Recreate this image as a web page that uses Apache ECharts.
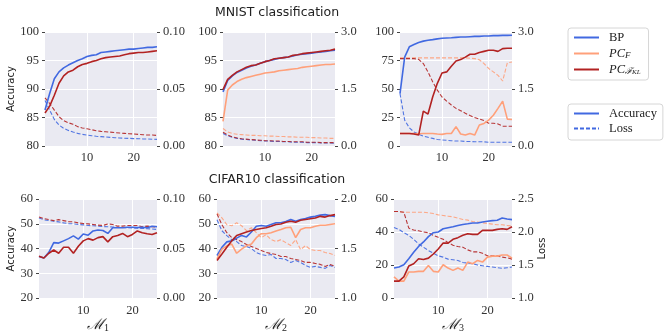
<!DOCTYPE html>
<html>
<head>
<meta charset="utf-8">
<script src="https://cdn.jsdelivr.net/npm/echarts@6/dist/echarts.min.js"></script>
<style>
  html, body { margin: 0; padding: 0; background: #fff; }
  #chart { width: 665px; height: 334px; }
</style>
</head>
<body>
<div id="chart"></div>
<script>
// epochs on the x axis
const epochs = [1, 2, 3, 4, 5, 6, 7, 8, 9, 10, 11, 12, 13, 14, 15, 16, 17, 18, 19, 20, 21, 22, 23, 24, 25]
const xTicks = [10, 20]

// MNIST, M1
const mnistM1BpAcc = [86.3, 89.2, 91.8, 93.0, 93.7, 94.2, 94.6, 95.0, 95.3, 95.7, 95.9, 96.0, 96.4, 96.5, 96.6, 96.7, 96.8, 96.9, 97.0, 97.0, 97.1, 97.2, 97.3, 97.3, 97.4]
const mnistM1BpLoss = [0.040, 0.0315, 0.0233, 0.0184, 0.0155, 0.0137, 0.0122, 0.0111, 0.0102, 0.0096, 0.0090, 0.0085, 0.0082, 0.0079, 0.0076, 0.0073, 0.0070, 0.0068, 0.0067, 0.0065, 0.0064, 0.0062, 0.0061, 0.0059, 0.0058]
const mnistM1FklAcc = [85.8, 87.0, 88.9, 91.0, 92.3, 93.0, 93.3, 93.9, 94.3, 94.5, 94.8, 95.0, 95.3, 95.5, 95.6, 95.7, 95.8, 96.0, 96.2, 96.3, 96.4, 96.4, 96.5, 96.6, 96.7]
const mnistM1FklLoss = [0.0423, 0.0373, 0.0315, 0.0257, 0.0222, 0.0204, 0.0190, 0.0170, 0.0158, 0.0152, 0.0143, 0.0134, 0.0128, 0.0125, 0.0122, 0.0117, 0.0114, 0.0111, 0.0108, 0.0105, 0.0102, 0.0099, 0.0096, 0.0096, 0.0093]

// MNIST, M2
const mnistM2BpAcc = [89.5, 91.5, 92.3, 92.9, 93.3, 93.7, 94.0, 94.2, 94.5, 94.8, 95.0, 95.2, 95.4, 95.5, 95.6, 95.8, 96.0, 96.1, 96.2, 96.3, 96.4, 96.5, 96.6, 96.7, 96.8]
const mnistM2BpLoss = [0.33, 0.27, 0.23, 0.20, 0.18, 0.17, 0.16, 0.15, 0.14, 0.13, 0.13, 0.12, 0.12, 0.11, 0.11, 0.10, 0.10, 0.10, 0.09, 0.09, 0.09, 0.08, 0.08, 0.08, 0.07]
const mnistM2PcfAcc = [84.3, 89.8, 90.7, 91.3, 91.7, 92.0, 92.2, 92.4, 92.6, 92.8, 92.9, 93.0, 93.2, 93.3, 93.4, 93.5, 93.6, 93.8, 93.9, 94.0, 94.1, 94.2, 94.3, 94.3, 94.4]
const mnistM2PcfLoss = [0.46, 0.37, 0.33, 0.31, 0.30, 0.29, 0.28, 0.28, 0.27, 0.27, 0.26, 0.26, 0.25, 0.25, 0.24, 0.24, 0.23, 0.23, 0.23, 0.22, 0.22, 0.21, 0.21, 0.20, 0.20]
const mnistM2FklAcc = [89.9, 91.7, 92.4, 93.0, 93.4, 93.8, 94.1, 94.2, 94.5, 94.8, 95.0, 95.3, 95.4, 95.5, 95.6, 95.9, 96.0, 96.2, 96.3, 96.4, 96.5, 96.6, 96.7, 96.8, 97.0]
const mnistM2FklLoss = [0.36, 0.29, 0.24, 0.21, 0.19, 0.18, 0.17, 0.16, 0.15, 0.14, 0.14, 0.13, 0.13, 0.12, 0.12, 0.11, 0.11, 0.11, 0.10, 0.10, 0.10, 0.09, 0.09, 0.09, 0.09]

// MNIST, M3
const mnistM3BpAcc = [46, 78, 87, 89, 90.7, 92, 92.7, 93.3, 94, 94.5, 94.8, 95, 95.3, 95.6, 95.6, 95.9, 96.2, 96.2, 96.5, 96.5, 96.8, 96.8, 97, 97, 97.1]
const mnistM3BpLoss = [1.38, 0.68, 0.48, 0.37, 0.31, 0.26, 0.23, 0.20, 0.17, 0.16, 0.15, 0.14, 0.13, 0.13, 0.12, 0.12, 0.11, 0.11, 0.11, 0.10, 0.10, 0.10, 0.10, 0.10, 0.10]
const mnistM3PcfAcc = [11, 11, 11, 11, 10.8, 11, 11, 11, 10.5, 10.2, 11, 11, 17, 10.5, 9.6, 11, 9.6, 18.4, 19.8, 22.7, 27, 33, 39.4, 23.6, 23.3]
const mnistM3PcfLoss = [2.32, 2.32, 2.32, 2.32, 2.32, 2.32, 2.32, 2.32, 2.32, 2.32, 2.32, 2.32, 2.32, 2.32, 2.32, 2.31, 2.30, 2.27, 2.17, 2.04, 1.95, 1.86, 1.71, 2.19, 2.21]
const mnistM3FklAcc = [11, 11, 11, 10.5, 9.6, 30.6, 28, 43, 55, 64, 65, 70, 74.6, 75.8, 78, 80.5, 80.5, 82, 83, 84, 84, 83, 85.4, 85.7, 85.7]
const mnistM3FklLoss = [2.30, 2.30, 2.30, 2.30, 2.28, 2.17, 1.95, 1.69, 1.47, 1.29, 1.18, 1.08, 0.99, 0.93, 0.86, 0.80, 0.75, 0.71, 0.67, 0.60, 0.60, 0.58, 0.52, 0.52, 0.52]

// CIFAR10, M1
const cifarM1BpAcc = [36.8, 36.2, 38.5, 42.4, 42.2, 43.1, 44.0, 45.1, 43.8, 45.9, 45.4, 47.1, 47.5, 47.3, 46.1, 48.4, 48.4, 48.4, 48.6, 48.6, 48.5, 48.6, 48.4, 49.0, 48.8]
const cifarM1BpLoss = [0.0809, 0.0790, 0.0782, 0.0776, 0.0769, 0.0759, 0.0752, 0.0749, 0.0743, 0.0739, 0.0733, 0.0730, 0.0726, 0.0722, 0.0720, 0.0717, 0.0714, 0.0712, 0.0710, 0.0707, 0.0705, 0.0703, 0.0700, 0.0697, 0.0693]
const cifarM1FklAcc = [36.9, 36.2, 38.1, 39.4, 38.1, 40.5, 40.5, 38.1, 40.9, 43.1, 44.0, 43.4, 44.4, 44.8, 42.7, 44.8, 45.3, 46.1, 44.8, 45.7, 47.1, 46.4, 46.0, 45.7, 46.4]
const cifarM1FklLoss = [0.0818, 0.0802, 0.0792, 0.0782, 0.0792, 0.0782, 0.0772, 0.0769, 0.0759, 0.0752, 0.0749, 0.0743, 0.0736, 0.0733, 0.0749, 0.0743, 0.0726, 0.0726, 0.0733, 0.0733, 0.0733, 0.0720, 0.0726, 0.0720, 0.0716]

// CIFAR10, M2
const cifarM2BpAcc = [37.2, 40.5, 42.7, 43.1, 44.2, 45.3, 44.7, 46.7, 49.0, 49.3, 49.0, 49.7, 50.4, 50.4, 50.9, 51.7, 51.0, 51.7, 52.1, 52.7, 53.0, 53.5, 53.7, 53.3, 53.0]
const cifarM2BpLoss = [1.79, 1.68, 1.63, 1.59, 1.57, 1.53, 1.52, 1.50, 1.46, 1.44, 1.43, 1.44, 1.40, 1.40, 1.39, 1.36, 1.38, 1.36, 1.33, 1.31, 1.32, 1.31, 1.30, 1.33, 1.31]
const cifarM2PcfAcc = [35.8, 39.8, 41.1, 41.8, 38.1, 39.8, 41.1, 41.8, 44.4, 46.0, 46.0, 46.4, 47.1, 47.7, 48.4, 48.6, 44.4, 47.7, 48.4, 48.4, 49.0, 49.4, 49.4, 49.7, 50.0]
const cifarM2PcfLoss = [1.86, 1.81, 1.74, 1.73, 1.76, 1.73, 1.68, 1.71, 1.66, 1.61, 1.64, 1.59, 1.57, 1.59, 1.56, 1.53, 1.59, 1.49, 1.53, 1.49, 1.48, 1.48, 1.46, 1.45, 1.43]
const cifarM2FklAcc = [35.2, 37.8, 40.5, 43.1, 45.3, 46.0, 46.7, 47.3, 47.7, 48.1, 48.4, 49.0, 49.7, 49.9, 50.6, 51.0, 50.6, 51.4, 51.7, 52.0, 52.3, 53.0, 52.7, 53.3, 53.7]
const cifarM2FklLoss = [1.85, 1.74, 1.66, 1.61, 1.59, 1.57, 1.54, 1.52, 1.50, 1.48, 1.46, 1.45, 1.44, 1.42, 1.42, 1.40, 1.39, 1.38, 1.36, 1.36, 1.35, 1.34, 1.32, 1.34, 1.32]

// CIFAR10, M3
const cifarM3BpAcc = [18.2, 18.8, 20.2, 23.8, 27.7, 31.3, 34.0, 37.2, 39.6, 40.0, 42.0, 42.6, 43.2, 44.0, 44.6, 45.0, 45.5, 45.5, 46.1, 46.5, 46.9, 47.1, 48.5, 47.9, 47.5]
const cifarM3BpLoss = [2.07, 2.04, 1.99, 1.95, 1.89, 1.82, 1.77, 1.72, 1.68, 1.64, 1.62, 1.59, 1.58, 1.57, 1.54, 1.53, 1.52, 1.50, 1.49, 1.48, 1.47, 1.46, 1.45, 1.46, 1.47]
const cifarM3PcfAcc = [12.9, 10.3, 10.3, 15.8, 15.8, 16.2, 16.2, 19.8, 16.2, 15.8, 20.2, 18.2, 16.8, 18.2, 16.8, 21.8, 20.8, 22.8, 21.8, 24.8, 25.4, 25.4, 26.1, 26.1, 24.2]
const cifarM3PcfLoss = [2.31, 2.31, 2.30, 2.30, 2.30, 2.30, 2.30, 2.29, 2.28, 2.26, 2.25, 2.24, 2.23, 2.21, 2.19, 2.18, 2.16, 2.15, 2.14, 2.13, 2.12, 2.11, 2.11, 2.10, 2.09]
const cifarM3FklAcc = [10.3, 10.3, 12.9, 19.4, 20.8, 23.8, 23.4, 24.2, 26.7, 29.7, 33.3, 33.3, 35.6, 36.6, 38.0, 39.0, 38.6, 38.6, 41.0, 41.0, 41.0, 41.6, 42.0, 41.6, 43.2]
const cifarM3FklLoss = [2.31, 2.31, 2.30, 2.06, 2.03, 2.02, 2.00, 1.99, 1.95, 1.92, 1.89, 1.84, 1.80, 1.78, 1.77, 1.73, 1.70, 1.70, 1.68, 1.64, 1.64, 1.64, 1.62, 1.61, 1.59]

const colors = { BP: '#4169E1', PC_F: '#FFA07A', PC_FKL: '#B22222' }
const legendText = {
  BP: '{t|BP}',
  PC_F: '{i|PC}{s|F}',
  PC_FKL: '{i|PC}{s|ℱ}{k|KL}',
  Accuracy: '{t|Accuracy}',
  Loss: '{t|Loss}'
}

const serif = 'Liberation Serif'
const sans = 'DejaVu Sans'
const tickFont = { fontFamily: serif, fontSize: 12.5, color: '#333' }

// one entry per subplot
const panels = [
  {
    grid: { left: 45, top: 32, width: 112, height: 114 },
    acc: [80, 100, 5], loss: [0, 0.1, 0.05, 2], yName: 'Accuracy',
    lines: [['BP', mnistM1BpAcc, mnistM1BpLoss], ['PC_FKL', mnistM1FklAcc, mnistM1FklLoss]]
  },
  {
    grid: { left: 223, top: 32, width: 112, height: 114 },
    acc: [80, 100, 5], loss: [0, 3, 1.5, 1],
    lines: [['BP', mnistM2BpAcc, mnistM2BpLoss], ['PC_F', mnistM2PcfAcc, mnistM2PcfLoss], ['PC_FKL', mnistM2FklAcc, mnistM2FklLoss]]
  },
  {
    grid: { left: 400, top: 32, width: 112, height: 114 },
    acc: [0, 100, 25], loss: [0, 3, 1.5, 1],
    lines: [['BP', mnistM3BpAcc, mnistM3BpLoss], ['PC_F', mnistM3PcfAcc, mnistM3PcfLoss], ['PC_FKL', mnistM3FklAcc, mnistM3FklLoss]]
  },
  {
    grid: { left: 39, top: 199, width: 118, height: 101 },
    acc: [20, 60, 10], loss: [0, 0.1, 0.05, 2], yName: 'Accuracy', xName: '1',
    lines: [['BP', cifarM1BpAcc, cifarM1BpLoss], ['PC_FKL', cifarM1FklAcc, cifarM1FklLoss]]
  },
  {
    grid: { left: 217, top: 199, width: 118, height: 101 },
    acc: [20, 60, 10], loss: [1, 2, 0.5, 1], xName: '2',
    lines: [['BP', cifarM2BpAcc, cifarM2BpLoss], ['PC_F', cifarM2PcfAcc, cifarM2PcfLoss], ['PC_FKL', cifarM2FklAcc, cifarM2FklLoss]]
  },
  {
    grid: { left: 394, top: 199, width: 118, height: 101 },
    acc: [0, 60, 20], loss: [1, 2.5, 0.5, 1], xName: '3', lossName: 'Loss',
    lines: [['BP', cifarM3BpAcc, cifarM3BpLoss], ['PC_F', cifarM3PcfAcc, cifarM3PcfLoss], ['PC_FKL', cifarM3FklAcc, cifarM3FklLoss]]
  }
]

const grid = []
const xAxis = []
const yAxis = []
const series = []

// legend style entries go first so the legend takes solid lines
series.push({ name: 'Accuracy', type: 'line', xAxisIndex: 0, yAxisIndex: 0, symbol: 'none', color: colors.BP, lineStyle: { width: 1.6 }, data: [] })
series.push({ name: 'Loss', type: 'line', xAxisIndex: 0, yAxisIndex: 0, symbol: 'none', color: colors.BP, lineStyle: { width: 1.1, type: [4, 2] }, data: [] })

panels.forEach((p, i) => {
  grid.push(Object.assign({ show: true, backgroundColor: '#EAEAF2', borderWidth: 0 }, p.grid))
  xAxis.push({
    gridIndex: i,
    type: 'value',
    min: 1,
    max: 25,
    axisLine: { show: false },
    axisTick: { show: false, customValues: xTicks },
    axisLabel: Object.assign({ customValues: xTicks, margin: i < 3 ? 5 : 6 }, tickFont),
    splitLine: { lineStyle: { color: '#fff', width: 1 } },
    name: p.xName ? '{m|ℳ}{s|' + p.xName + '}' : '',
    nameLocation: 'middle',
    nameGap: 18,
    nameTextStyle: {
      rich: {
        m: { fontFamily: 'DejaVu Serif', fontSize: 15, color: '#222', fontStyle: 'italic' },
        s: { fontFamily: serif, fontSize: 10, color: '#222', verticalAlign: 'bottom' }
      }
    }
  })
  yAxis.push({
    gridIndex: i,
    type: 'value',
    position: 'left',
    min: p.acc[0],
    max: p.acc[1],
    interval: p.acc[2],
    axisLine: { show: false },
    axisTick: { show: true, length: 3, lineStyle: { color: '#444' } },
    axisLabel: Object.assign({ margin: 6 }, tickFont),
    splitLine: { lineStyle: { color: '#fff', width: 1 } },
    name: p.yName || '',
    nameLocation: 'middle',
    nameRotate: 90,
    nameGap: i < 3 ? 28 : 22,
    nameTextStyle: { fontFamily: sans, fontSize: 10, color: '#222' }
  })
  yAxis.push({
    gridIndex: i,
    type: 'value',
    position: 'right',
    min: p.loss[0],
    max: p.loss[1],
    interval: p.loss[2],
    axisLine: { show: false },
    axisTick: { show: true, length: 3, lineStyle: { color: '#444' } },
    axisLabel: Object.assign({ margin: 6, formatter: v => v.toFixed(p.loss[3]) }, tickFont),
    splitLine: { show: false },
    name: p.lossName || '',
    nameLocation: 'middle',
    nameRotate: 90,
    nameGap: 22,
    nameTextStyle: { fontFamily: sans, fontSize: 10, color: '#222' }
  })
  p.lines.forEach(([name, acc, loss]) => {
    series.push({
      name: name,
      type: 'line',
      xAxisIndex: i,
      yAxisIndex: i * 2,
      symbol: 'none',
      color: colors[name],
      lineStyle: { width: 1.6 },
      z: 3,
      data: acc.map((v, j) => [epochs[j], v])
    })
    series.push({
      name: name,
      type: 'line',
      xAxisIndex: i,
      yAxisIndex: i * 2 + 1,
      symbol: 'none',
      color: colors[name],
      lineStyle: { width: 1.1, type: [4, 2], opacity: 0.9 },
      z: 2,
      data: loss.map((v, j) => [epochs[j], v])
    })
  })
})

const legendBase = {
  orient: 'vertical',
  left: 568,
  itemWidth: 25,
  itemHeight: 14,
  selectedMode: false,
  backgroundColor: '#fff',
  borderColor: '#d6d6d6',
  borderWidth: 1,
  borderRadius: 3,
  itemStyle: { opacity: 0 },
  formatter: n => legendText[n],
  textStyle: {
    padding: [0, 0, 0, 5],
    rich: {
      t: { fontFamily: serif, fontSize: 12.5, color: '#222' },
      i: { fontFamily: serif, fontSize: 12.5, color: '#222', fontStyle: 'italic' },
      s: { fontFamily: serif, fontSize: 9, color: '#222', fontStyle: 'italic', verticalAlign: 'bottom' },
      k: { fontFamily: serif, fontSize: 7, color: '#222', fontStyle: 'italic', verticalAlign: 'bottom' }
    }
  }
}

const option = {
  animation: false,
  backgroundColor: '#fff',
  grid: grid,
  xAxis: xAxis,
  yAxis: yAxis,
  legend: [
    Object.assign({}, legendBase, { top: 28, padding: [3, 8, 4, 5], itemGap: 3, data: ['BP', 'PC_F', 'PC_FKL'] }),
    Object.assign({}, legendBase, { top: 104, padding: [3, 6, 5, 5], itemGap: 2, data: ['Accuracy', 'Loss'] })
  ],
  graphic: [
    { type: 'text', x: 277, y: 13, style: { text: 'MNIST classification', font: '12.5px "DejaVu Sans"', fill: '#222', align: 'center', verticalAlign: 'middle' } },
    { type: 'text', x: 277, y: 180, style: { text: 'CIFAR10 classification', font: '12.5px "DejaVu Sans"', fill: '#222', align: 'center', verticalAlign: 'middle' } }
  ],
  series: series
}

const chart = echarts.init(document.getElementById('chart'))
chart.setOption(option)
</script>
</body>
</html>
